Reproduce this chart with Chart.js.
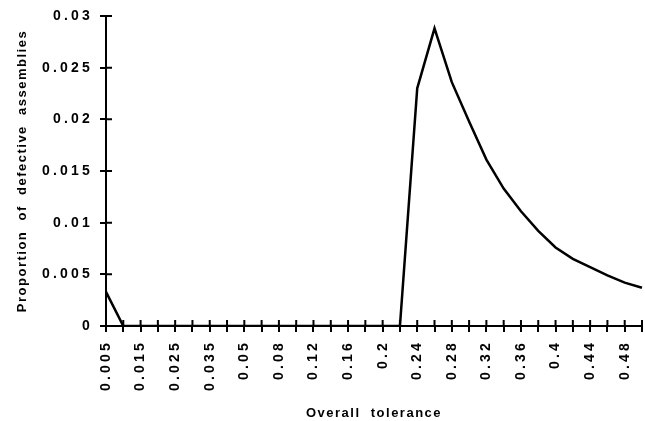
<!DOCTYPE html>
<html>
<head>
<meta charset="utf-8">
<script src="https://cdn.jsdelivr.net/npm/chart.js@4/dist/chart.umd.min.js"></script>
<style>html,body{margin:0;background:#fff}</style>
</head>
<body>
<canvas id="chart" width="645" height="421"></canvas>
<script>
// ── data ──
const tolerances = ['0.005','0.01','0.015','0.02','0.025','0.03','0.035','0.04','0.05','0.06',
  '0.08','0.1','0.12','0.14','0.16','0.18','0.2','0.22','0.24','0.26','0.28','0.3','0.32',
  '0.34','0.36','0.38','0.4','0.42','0.44','0.46','0.48','0.5'];
const xTickLabels = ['0.005','','0.015','','0.025','','0.035','','0.05','',
  '0.08','','0.12','','0.16','','0.2','','0.24','','0.28','','0.32',
  '','0.36','','0.4','','0.44','','0.48',''];
const defective = [0.0033,0,0,0,0,0,0,0,0,0,
  0,0,0,0,0,0,0,0,0.0230,0.0288,0.0236,0.0198,0.0161,
  0.0133,0.0111,0.0092,0.0076,0.0065,0.0057,0.0049,0.0042,0.0037];
const yTickLabels = ['0','0.005','0.01','0.015','0.02','0.025','0.03'];

const FONT = "'Liberation Sans', Arial, sans-serif";

// wider letter spacing like the scanned original
const origDrawTitle = Chart.Scale.prototype.drawTitle;
Chart.Scale.prototype.drawTitle = function() {
  this.ctx.save(); this.ctx.letterSpacing = '1.5px';
  origDrawTitle.call(this);
  this.ctx.restore();
};
const spacing = {
  id: 'spacing',
  beforeUpdate(c) { c.ctx.letterSpacing = '3.2px'; },
  beforeDraw(c) { c.ctx.letterSpacing = '3.2px'; }
};

// tick marks that cross the axis lines
const crossTicks = {
  id: 'crossTicks',
  afterDraw(chart) {
    const {ctx, chartArea: a, scales: {x, y}} = chart;
    ctx.save();
    ctx.strokeStyle = '#000'; ctx.lineWidth = 2;
    ctx.beginPath();
    x.ticks.forEach((t, i) => { const px = x.getPixelForTick(i); ctx.moveTo(px, a.bottom); ctx.lineTo(px, a.bottom - 6); });
    y.ticks.forEach((t, i) => { const py = y.getPixelForTick(i); ctx.moveTo(a.left, py); ctx.lineTo(a.left + 6, py); });
    ctx.stroke();
    ctx.restore();
  }
};

new Chart(document.getElementById('chart').getContext('2d'), {
  type: 'line',
  data: {
    labels: tolerances,
    datasets: [{ data: defective, borderColor: '#000', borderWidth: 2.5, pointRadius: 0, tension: 0, fill: false }]
  },
  options: {
    responsive: false, animation: false,
    layout: { padding: { top: 16, right: 3, left: 0, bottom: 0 } },
    plugins: { legend: { display: false }, tooltip: { enabled: false } },
    scales: {
      x: {
        offset: false,
        afterFit: s => { s.height = 95; s.paddingLeft = 0; s.paddingRight = 0; },
        border: { display: true, color: '#000', width: 2 },
        grid: { drawOnChartArea: false, drawTicks: true, tickLength: 6, color: '#000', lineWidth: 2 },
        ticks: { autoSkip: false, minRotation: 90, maxRotation: 90, padding: 8, color: '#000',
                 font: { family: FONT, size: 14, weight: 'bold' }, callback: (v, i) => xTickLabels[i] },
        title: { display: true, text: 'Overall  tolerance', color: '#000', padding: { top: 3, bottom: 0 },
                 font: { family: FONT, size: 13, weight: 'bold' } }
      },
      y: {
        min: 0, max: 0.03,
        afterFit: s => { s.width = 106; s.paddingTop = 0; s.paddingBottom = 0; },
        border: { display: true, color: '#000', width: 2 },
        grid: { drawOnChartArea: false, drawTicks: true, tickLength: 6, color: '#000', lineWidth: 2 },
        ticks: { stepSize: 0.005, padding: 7, color: '#000', font: { family: FONT, size: 14, weight: 'bold' },
                 callback: (v, i) => yTickLabels[i] },
        title: { display: true, text: 'Proportion  of  defective  assemblies', color: '#000',
                 padding: { top: 15, bottom: 0 }, font: { family: FONT, size: 13, weight: 'bold' } }
      }
    }
  },
  plugins: [spacing, crossTicks]
});
</script>
</body>
</html>
